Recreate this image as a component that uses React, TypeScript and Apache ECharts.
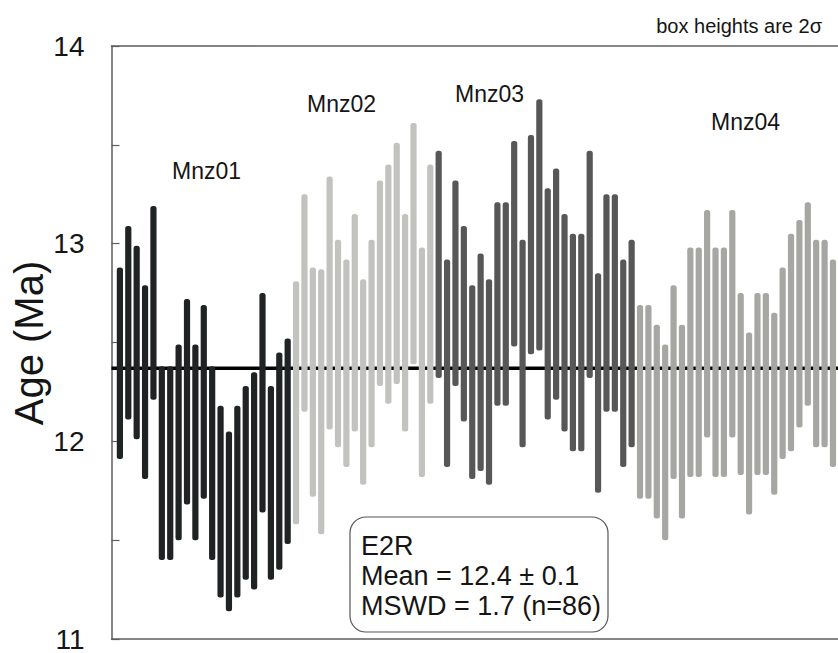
import React, { useEffect, useRef } from "react";
import * as echarts from "echarts";

// ---- data (ages in Ma, 2-sigma box tops and bottoms) ----
const mnz01High = [12.88, 13.09, 12.99, 12.79, 13.19, 12.38, 12.38, 12.49, 12.72, 12.49, 12.69, 12.38, 12.18, 12.05, 12.18, 12.28, 12.35, 12.75, 12.28, 12.45, 12.52];
const mnz01Low = [11.91, 12.11, 12.01, 11.81, 12.21, 11.4, 11.4, 11.5, 11.68, 11.5, 11.71, 11.4, 11.21, 11.14, 11.21, 11.3, 11.25, 11.64, 11.3, 11.35, 11.48];

const mnz02High = [12.81, 13.25, 12.88, 12.87, 13.34, 13.02, 12.92, 13.15, 12.82, 13.02, 13.32, 13.4, 13.51, 13.15, 13.61, 12.98, 13.4];
const mnz02Low = [11.58, 12.15, 11.72, 11.53, 12.06, 11.97, 11.87, 12.05, 11.78, 11.97, 12.28, 12.19, 12.29, 12.05, 12.39, 11.82, 12.19];

const mnz03High = [13.47, 12.92, 13.32, 13.09, 12.79, 12.95, 12.82, 13.21, 13.21, 13.52, 13.02, 13.55, 13.73, 13.28, 13.38, 13.15, 13.05, 13.05, 13.47, 12.85, 13.25, 13.25, 12.92, 13.02];
const mnz03Low = [12.32, 11.87, 12.28, 12.1, 11.81, 11.85, 11.78, 12.18, 12.18, 12.48, 11.97, 12.44, 12.46, 12.11, 12.21, 12.05, 11.95, 11.95, 12.32, 11.74, 12.15, 12.15, 11.87, 11.97];

const mnz04High = [12.69, 12.69, 12.59, 12.49, 12.79, 12.59, 12.98, 12.98, 13.17, 12.98, 12.98, 13.17, 12.75, 12.55, 12.75, 12.75, 12.65, 12.88, 13.05, 13.12, 13.21, 13.02, 13.02, 12.92];
const mnz04Low = [11.71, 11.71, 11.61, 11.5, 11.81, 11.61, 11.82, 11.82, 12.02, 11.82, 11.82, 12.02, 11.83, 11.63, 11.83, 11.83, 11.73, 11.91, 11.95, 12.07, 12.18, 11.97, 11.97, 11.87];

const groupNames = ["Mnz01", "Mnz02", "Mnz03", "Mnz04"];
const groupColors = ["#1f2323", "#c2c3bf", "#575757", "#a6a7a3"];
const meanAge = 12.37;
const yTicks = [11, 12, 13, 14];
const boxLines = ["E2R", "Mean = 12.4 ± 0.1", "MSWD = 1.7 (n=86)"];
const noteText = "box heights are 2σ";
const axisTitle = "Age (Ma)";

const FONT = '"Liberation Sans", Arial, Helvetica, sans-serif';

export default function App() {
  const ref = useRef<HTMLDivElement>(null);

  useEffect(() => {
    if (!ref.current) return;
    const chart = echarts.init(ref.current, undefined, { renderer: "svg" });

    const groups = [
      [mnz01Low, mnz01High],
      [mnz02Low, mnz02High],
      [mnz03Low, mnz03High],
      [mnz04Low, mnz04High],
    ];
    const data: number[][] = [];
    let idx = 1;
    groups.forEach(([lo, hi], g) => {
      lo.forEach((v, k) => {
        data.push([idx, v, hi[k], g]);
        idx++;
      });
    });
    const xMax = 86.6;

    const text = (t: string, x: number, y: number, size: number, align: string, extra: any = {}) => ({
      type: "text",
      x,
      y,
      ...extra,
      style: {
        text: t,
        fontSize: size,
        fontFamily: FONT,
        fill: "#151515",
        align,
        verticalAlign: "middle",
        textAlign: align,
        textVerticalAlign: "middle",
      },
      z: 10,
    });

    const groupLabelPos = [
      [172, 171],
      [307, 104],
      [455, 94],
      [711, 122],
    ];

    chart.setOption({
      animation: false,
      backgroundColor: "#ffffff",
      grid: { left: 111.5, right: 0, top: 46, bottom: 10.5 },
      xAxis: [
        {
          type: "value",
          min: 0,
          max: xMax,
          position: "bottom",
          axisLine: { show: true, lineStyle: { color: "#5e5e5e", width: 1.5 } },
          axisTick: { show: false },
          axisLabel: { show: false },
          splitLine: { show: false },
        },
        {
          type: "value",
          min: 0,
          max: xMax,
          position: "top",
          axisLine: { show: true, onZero: false, lineStyle: { color: "#5e5e5e", width: 1.5 } },
          axisTick: { show: false },
          axisLabel: { show: false },
          splitLine: { show: false },
        },
      ],
      yAxis: {
        type: "value",
        min: 11,
        max: 14,
        interval: 0.5,
        axisLine: { show: true, onZero: false, lineStyle: { color: "#5e5e5e", width: 1.5 } },
        axisTick: { show: true, inside: true, length: 8, lineStyle: { color: "#5e5e5e", width: 1.2 } },
        axisLabel: {
          margin: 27,
          fontSize: 28,
          fontFamily: FONT,
          color: "#151515",
          formatter: (v: number) => (yTicks.indexOf(Math.round(v * 100) / 100) >= 0 ? String(Math.round(v)) : ""),
        },
        splitLine: { show: false },
      },
      series: [
        {
          type: "line",
          data: [
            [0, meanAge],
            [xMax, meanAge],
          ],
          showSymbol: false,
          symbol: "none",
          lineStyle: { color: "#000000", width: 3.5 },
          z: 1,
          silent: true,
        },
        {
          type: "custom",
          z: 2,
          data,
          encode: { x: 0, y: [1, 2] },
          renderItem: (params: any, api: any) => {
            const x = api.value(0);
            const lo = api.value(1);
            const hi = api.value(2);
            const g = api.value(3);
            const pTop = api.coord([x, hi]);
            const pBot = api.coord([x, lo]);
            const w = 6.2;
            return {
              type: "rect",
              shape: { x: pTop[0] - w / 2, y: pTop[1], width: w, height: pBot[1] - pTop[1], r: 2.5 },
              style: { fill: groupColors[g] },
            };
          },
        },
      ],
      graphic: [
        text(axisTitle, 29, 343, 40, "center", { rotation: Math.PI / 2 }),
        text(noteText, 822, 26, 20, "right"),
        ...groupNames.map((n, i) => text(n, groupLabelPos[i][0], groupLabelPos[i][1], 23, "left")),
        {
          type: "rect",
          shape: { x: 350, y: 517, width: 258, height: 115, r: 16 },
          style: { fill: "#ffffff", stroke: "#555555", lineWidth: 1.2 },
          z: 9,
        },
        ...boxLines.map((t, i) => text(t, 361, 546 + i * 30, 27, "left")),
      ],
    });

    return () => chart.dispose();
  }, []);

  return (
    <div
      ref={ref}
      style={{ position: "fixed", left: 0, top: 0, width: 838, height: 653 }}
    />
  );
}
